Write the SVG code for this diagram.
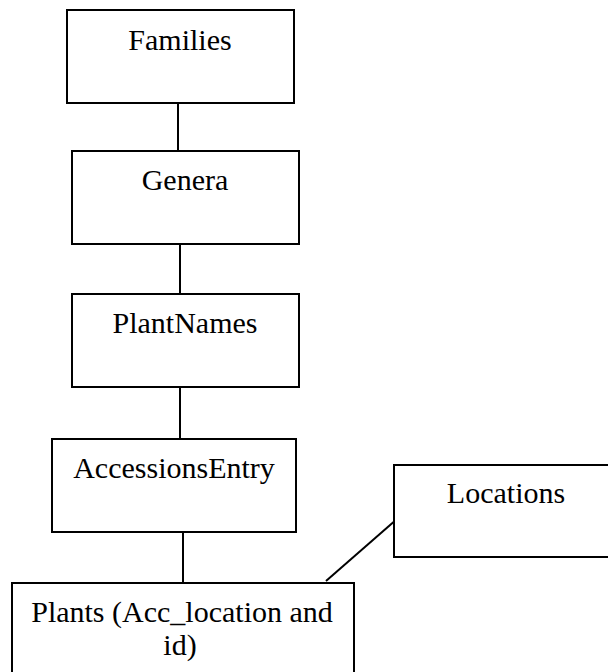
<svg xmlns="http://www.w3.org/2000/svg" width="608" height="672" viewBox="0 0 608 672">
<style>
.box{fill:#fff;stroke:#000;stroke-width:2}
.t{font-family:"Liberation Serif","Times New Roman",serif;font-size:30px;fill:#000;text-anchor:middle}
.c{stroke:#000;stroke-width:2;fill:none}
</style>
<rect width="608" height="672" fill="#fff"/>
<g id="connectors">
<line class="c" x1="178" y1="103" x2="178" y2="151"/>
<line class="c" x1="180" y1="241" x2="180" y2="294"/>
<line class="c" x1="180" y1="384" x2="180" y2="439"/>
<line class="c" x1="183" y1="530" x2="183" y2="583"/>
<line class="c" x1="326" y1="581" x2="397" y2="519"/>
</g>
<g id="families"><rect class="box" x="67" y="10" width="227" height="93"/><text class="t" x="180" y="50">Families</text></g>
<g id="genera"><rect class="box" x="72" y="151" width="227" height="93"/><text class="t" x="185" y="190">Genera</text></g>
<g id="plantnames"><rect class="box" x="72" y="294" width="227" height="93"/><text class="t" x="185" y="333">PlantNames</text></g>
<g id="accessionsentry"><rect class="box" x="52" y="439" width="244" height="93"/><text class="t" x="174" y="478">AccessionsEntry</text></g>
<g id="locations"><rect class="box" x="394" y="465" width="220" height="92"/><text class="t" x="506" y="503">Locations</text></g>
<g id="plants"><rect class="box" x="12" y="583" width="342" height="100"/><text class="t" x="182" y="622">Plants (Acc_location and</text><text class="t" x="180" y="655">id)</text></g>
</svg>
